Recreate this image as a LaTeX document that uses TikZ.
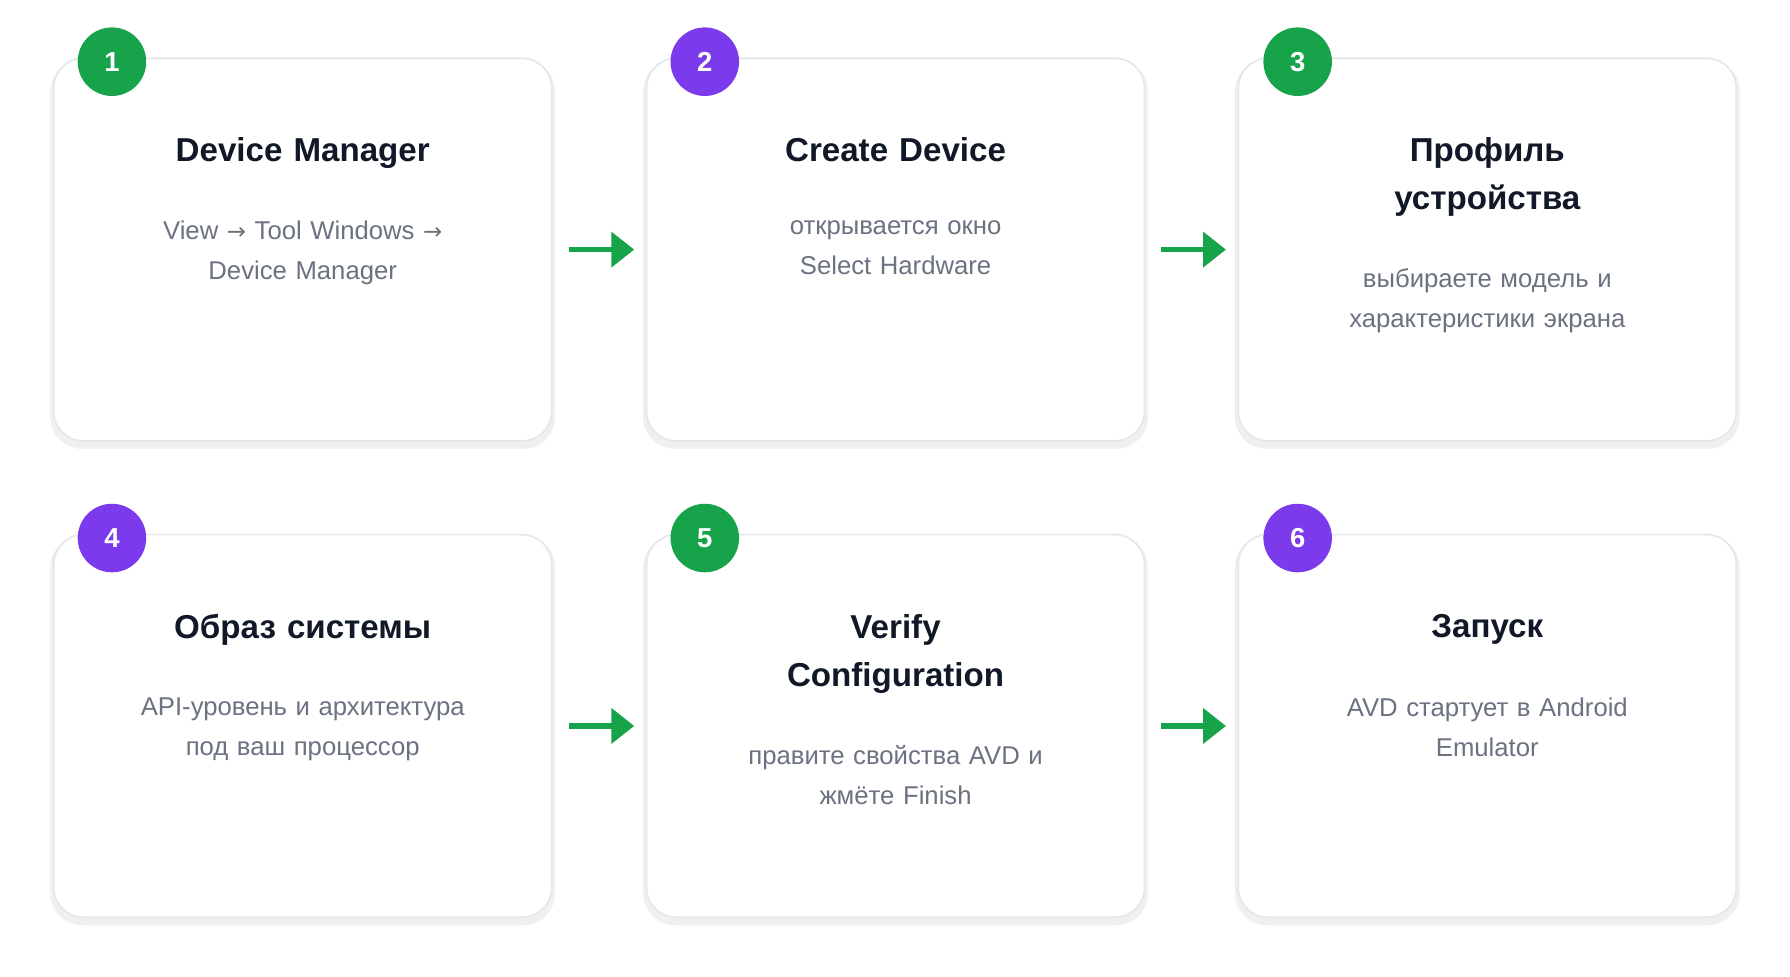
\documentclass[tikz,border=0pt]{standalone}
\usepackage{fontspec}
\setmainfont{Liberation Sans}
\usetikzlibrary{arrows.meta}
\definecolor{grn}{HTML}{16A34A}
\definecolor{prp}{HTML}{7C3AED}
\definecolor{bord}{HTML}{E5E7EB}
\definecolor{ttl}{HTML}{111827}
\definecolor{bdy}{HTML}{6B7280}
\begin{document}
\begin{tikzpicture}[x=1pt,y=-1pt,
 card/.style={draw=bord,line width=1.5pt,fill=white,rounded corners=26pt,minimum width=436pt,minimum height=335pt,inner sep=0pt},
 shadow/.style={fill=black!6,rounded corners=28pt,minimum width=442pt,minimum height=341pt,draw=none},
 badge/.style={circle,minimum size=60pt,inner sep=0pt,text=white,font=\fontsize{24}{28}\selectfont\bfseries},
 title/.style={text=ttl,font=\fontsize{29}{42}\selectfont\bfseries,align=center,text width=300pt,anchor=north},
 body/.style={text=bdy,font=\fontsize{22.5}{35}\selectfont,align=center,text width=300pt,anchor=north},
 arr/.style={-{Triangle[length=20pt,width=30pt]},grn,line width=5pt}]
\useasboundingbox (0,0) rectangle (1567,855);
\foreach \x/\y/\n in {265/218.5/a,784/218.5/b,1302/218.5/c,265/635.5/d,784/635.5/e,1302/635.5/f}{
  \node[shadow] at (\x,\y+4) {};
  \node[card] (\n) at (\x,\y) {};
}
\node[badge,fill=grn] (n1) at (98,54) {1};
\node[badge,fill=prp] (n2) at (617,54) {2};
\node[badge,fill=grn] (n3) at (1136,54) {3};
\node[badge,fill=prp] (n4) at (98,471) {4};
\node[badge,fill=grn] (n5) at (617,471) {5};
\node[badge,fill=prp] (n6) at (1136,471) {6};
\node[title] (t1) at (265,117) {Device Manager};
\node[body] (b1) at (265,190) {View \fontspec{DejaVu Sans}\fontsize{20}{35}\selectfont→\fontspec{Liberation Sans}\fontsize{22.5}{35}\selectfont{} Tool Windows \fontspec{DejaVu Sans}\fontsize{20}{35}\selectfont→\\\fontspec{Liberation Sans}\fontsize{22.5}{35}\selectfont Device Manager};
\node[title] (t2) at (784,117) {Create Device};
\node[body] (b2) at (784,190) {открывается окно Select Hardware};
\node[title] (t3) at (1302,117) {Профиль\\устройства};
\node[body] (b3) at (1302,232) {выбираете модель и характеристики экрана};
\node[title] (t4) at (265,534) {Образ системы};
\node[body] (b4) at (265,607) {API-уровень и архитектура\\под ваш процессор};
\node[title] (t5) at (784,534) {Verify\\Configuration};
\node[body] (b5) at (784,649) {правите свойства AVD и\\жмёте Finish};
\node[title] (t6) at (1302,534) {Запуск};
\node[body] (b6) at (1302,607) {AVD стартует в Android\\Emulator};
\draw[arr] ([xshift=14pt]a.east) -- ([xshift=-10pt]b.west);
\draw[arr] ([xshift=14pt]b.east) -- ([xshift=-10pt]c.west);
\draw[arr] ([xshift=14pt]d.east) -- ([xshift=-10pt]e.west);
\draw[arr] ([xshift=14pt]e.east) -- ([xshift=-10pt]f.west);
\end{tikzpicture}
\end{document}
